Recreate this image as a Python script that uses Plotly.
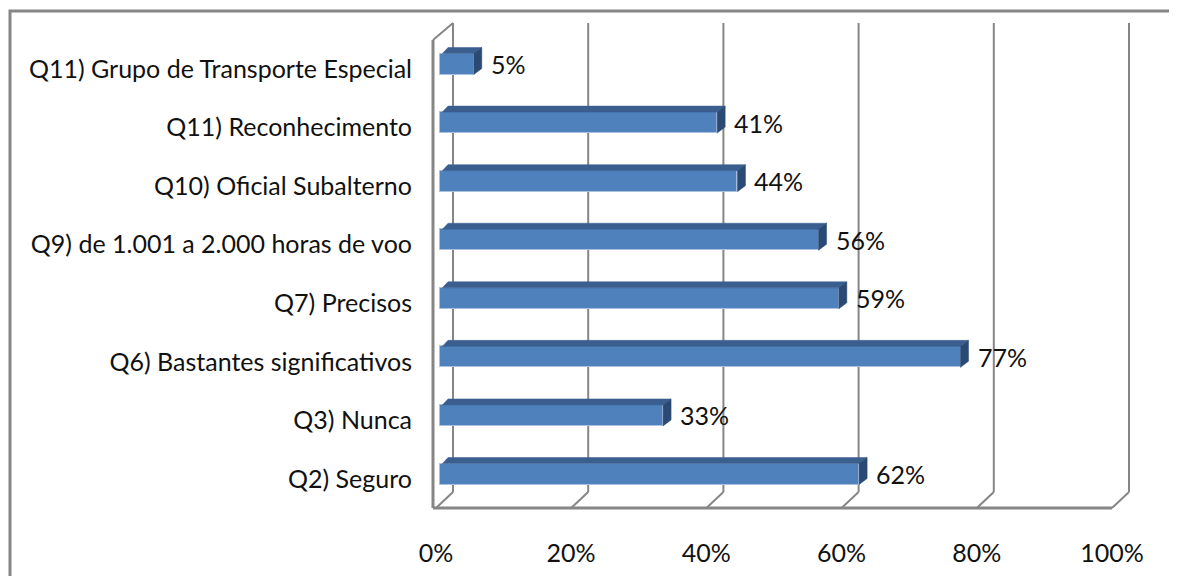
import plotly.graph_objects as go

# ---------------- data ----------------
categories = [
    "Q2) Seguro",
    "Q3) Nunca",
    "Q6) Bastantes significativos",
    "Q7) Precisos",
    "Q9) de 1.001 a 2.000 horas de voo",
    "Q10) Oficial Subalterno",
    "Q11) Reconhecimento",
    "Q11) Grupo de Transporte Especial",
]
values = [62, 33, 77, 59, 56, 44, 41, 5]
tick_values = [0, 20, 40, 60, 80, 100]
tick_labels = ["0%", "20%", "40%", "60%", "80%", "100%"]

# ---------------- geometry helpers ----------------
# The page body has an 8px margin; all "screen" pixel positions below are
# converted into figure pixels by subtracting OFF.
OFF = 8
W, H = 1177 - OFF, 576 - OFF
ML, MR, MT, MB = 412, 12, 7, 52           # figure-pixel margins
X0PX, XSCALE = 440.0 - OFF, 6.76          # figure px of value 0, px per percent
Y0PX, YSTEP = 474.0 - OFF, 58.57          # figure px of first category, px per category


def xv(sx):
    """screen px -> x data"""
    return (sx - OFF - X0PX) / XSCALE


def yv(sy):
    """screen px -> y data"""
    return (Y0PX - (sy - OFF)) / YSTEP


def paper_x(sx):
    return (sx - OFF - ML) / (W - ML - MR)


def paper_y(sy):
    return (H - MB - (sy - OFF)) / (H - MT - MB)


FRONT = "#4F81BD"
TOP = "#3A5F8F"
SIDE = "#2B4A73"
EDGE = "#A9C0DE"
WALL = "#868686"
FONT = "Lato"
FS = 25

idx = list(range(len(categories)))
bar_w = 21 / YSTEP
ddx = 8 / XSCALE
ddy = 6 / YSTEP
label_drop = 5 / YSTEP   # category labels sit slightly below bar centres

fig = go.Figure()

# front faces
fig.add_trace(go.Bar(
    y=idx, x=values, orientation="h", width=bar_w,
    marker=dict(color=FRONT, line=dict(color=EDGE, width=1)),
    hoverinfo="skip", showlegend=False,
))

# top and side faces (derived from values)
for i, v in zip(idx, values):
    yt = i + bar_w / 2
    yb = i - bar_w / 2
    fig.add_trace(go.Scatter(
        x=[0 + ddx * 0.3, v, v + ddx, ddx, 0 + ddx * 0.3],
        y=[yt, yt, yt + ddy, yt + ddy, yt],
        fill="toself", fillcolor=TOP, mode="lines",
        line=dict(color=TOP, width=0.5), hoverinfo="skip", showlegend=False,
    ))
    fig.add_trace(go.Scatter(
        x=[v, v + ddx, v + ddx, v, v],
        y=[yb, yb + ddy, yt + ddy, yt, yb],
        fill="toself", fillcolor=SIDE, mode="lines",
        line=dict(color=SIDE, width=0.5), hoverinfo="skip", showlegend=False,
    ))

# data labels
annotations = []
for i, v in zip(idx, values):
    annotations.append(dict(
        x=v, y=i, xref="x", yref="y", text=f"{v}%", showarrow=False,
        xanchor="left", yanchor="middle", xshift=15,
        font=dict(family=FONT, size=FS, color="#111111"),
    ))

# walls / gridlines
shapes = []
gx = 13 / XSCALE      # back-wall offset in x
floor_front = yv(508)
floor_back = yv(492)
wall_top = yv(23)
for t in tick_values:
    xb = t + gx
    shapes.append(dict(type="line", xref="x", yref="y", x0=xb, x1=xb,
                       y0=floor_back, y1=wall_top, layer="below",
                       line=dict(color=WALL, width=2)))
    shapes.append(dict(type="line", xref="x", yref="y", x0=xb, x1=xb - 17 / XSCALE,
                       y0=floor_back, y1=floor_front, layer="below",
                       line=dict(color=WALL, width=2)))
# floor front edge
shapes.append(dict(type="line", xref="x", yref="y", x0=xv(433), x1=tick_values[-1] + gx - 17 / XSCALE,
                   y0=floor_front, y1=floor_front, layer="below",
                   line=dict(color=WALL, width=3)))
# left wall front edge and top diagonal
shapes.append(dict(type="line", xref="x", yref="y", x0=xv(433), x1=xv(433),
                   y0=floor_front, y1=yv(40), layer="below",
                   line=dict(color=WALL, width=3)))
shapes.append(dict(type="line", xref="x", yref="y", x0=xv(433), x1=gx,
                   y0=yv(40), y1=wall_top, layer="below",
                   line=dict(color=WALL, width=2)))
# outer chart border
shapes.append(dict(type="rect", xref="paper", yref="paper",
                   x0=paper_x(10), x1=paper_x(1200), y0=paper_y(11), y1=paper_y(600),
                   layer="below", line=dict(color=WALL, width=3)))

fig.update_layout(
    width=W, height=H,
    margin=dict(l=ML, r=MR, t=MT, b=MB, pad=0, autoexpand=False),
    paper_bgcolor="white", plot_bgcolor="white",
    font=dict(family=FONT, size=FS, color="#111111"),
    showlegend=False,
    bargap=0,
    xaxis=dict(
        range=[xv(ML + OFF), xv(W - MR + OFF)], tickvals=[t - 0.6 for t in tick_values],
        ticktext=tick_labels, automargin=False,
        showgrid=False, zeroline=False, showline=False, ticks="",
        ticklabelstandoff=12, fixedrange=True,
    ),
    yaxis=dict(
        range=[yv(H - MB + OFF), yv(MT + OFF)], tickvals=[i - label_drop for i in idx],
        ticktext=categories, automargin=False,
        showgrid=False, zeroline=False, showline=False, ticks="",
        ticklabelstandoff=7, fixedrange=True,
    ),
    shapes=shapes,
    annotations=annotations,
)

fig.write_html("out.html")
